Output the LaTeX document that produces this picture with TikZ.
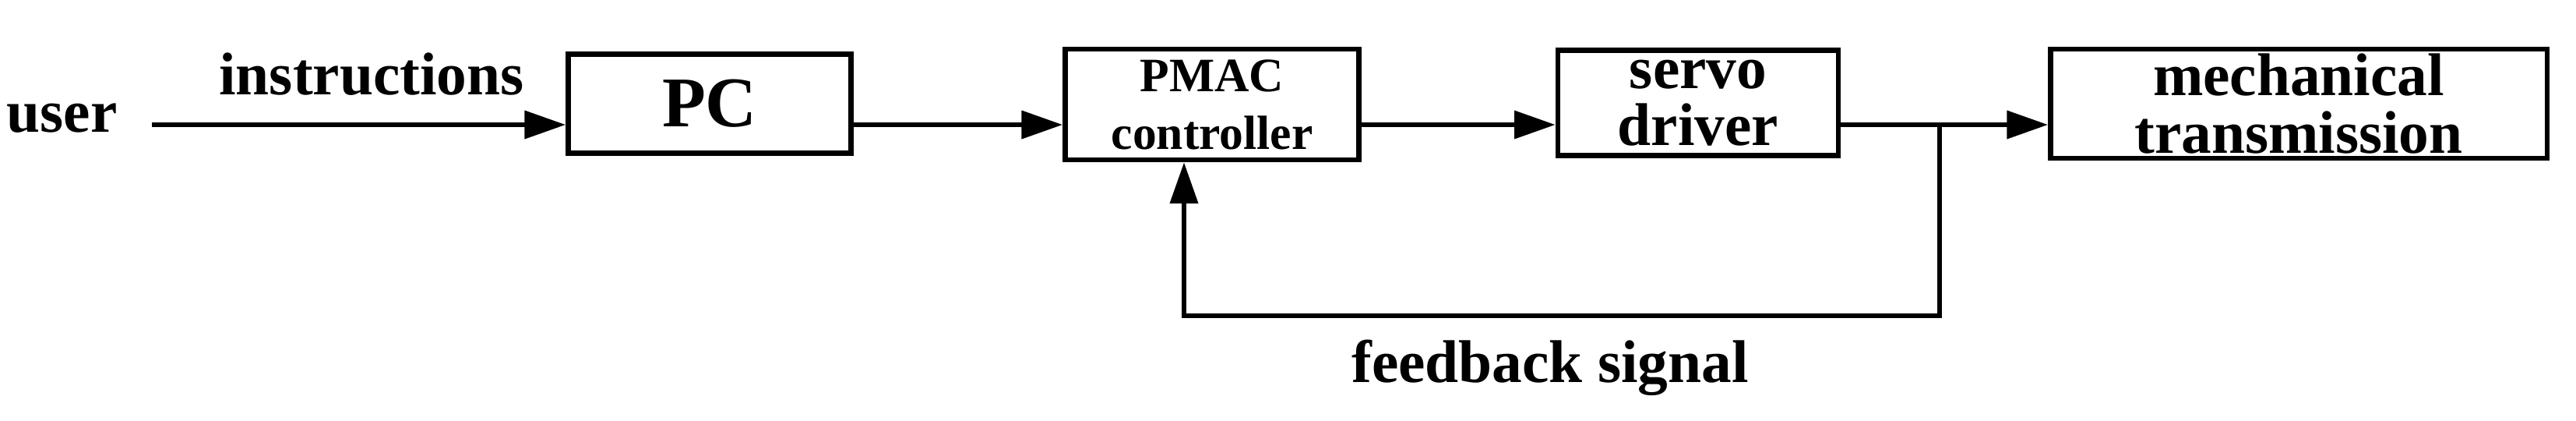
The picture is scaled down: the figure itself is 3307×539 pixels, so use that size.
\documentclass[tikz,border=0pt]{standalone}
\usepackage{fontspec}
\setmainfont{Liberation Serif}
\usetikzlibrary{arrows.meta}
\begin{document}
\begin{tikzpicture}[x=0.01cm,y=-0.01cm,
  box/.style={draw,line width=1.8pt,inner sep=0pt,align=center,font=\bfseries},
  ar/.style={line width=1.8pt,-{Triangle[length=15pt,width=10pt]}},
  ln/.style={line width=1.8pt}]
\useasboundingbox (0,0) rectangle (3307,539);
\node[box,minimum width=3.63cm,minimum height=1.27cm,font=\bfseries\fontsize{26}{26}\selectfont] (pc) at (911,133) {PC};
\node[box,minimum width=3.77cm,minimum height=1.42cm,font=\bfseries\fontsize{17.5}{21}\selectfont] (pmac) at (1556,134) {PMAC\\controller};
\node[box,minimum width=3.6cm,minimum height=1.35cm,font=\bfseries\fontsize{22}{21}\selectfont] (servo) at (2180,132) {servo\\driver};
\node[box,minimum width=6.37cm,minimum height=1.4cm,font=\bfseries\fontsize{22}{21}\selectfont] (mech) at (2951,133) {mechanical\\transmission};
\node[font=\bfseries\fontsize{22}{24}\selectfont,anchor=west,inner sep=0pt] (user) at (8,152) {user};
\coordinate (us) at (195,160);
\node[font=\bfseries\fontsize{22}{24}\selectfont] (ins) at (477,95) {instructions};
\draw[ar] (us) -- (us -| pc.west);
\draw[ar] (pc.east |- 0,160) -- (pmac.west |- 0,160);
\draw[ar] (pmac.east |- 0,160) -- (servo.west |- 0,160);
\draw[ar] (servo.east |- 0,160) -- (mech.west |- 0,160);
\coordinate (br) at (2490,160);
\coordinate (bd) at (2490,405);
\coordinate (bl) at (1520,405);
\draw[ar] (br) -- (bd) -- (bl) -- (bl |- pmac.south);
\node[font=\bfseries\fontsize{22}{24}\selectfont] (fb) at (1990,472) {feedback signal};
\end{tikzpicture}
\end{document}
